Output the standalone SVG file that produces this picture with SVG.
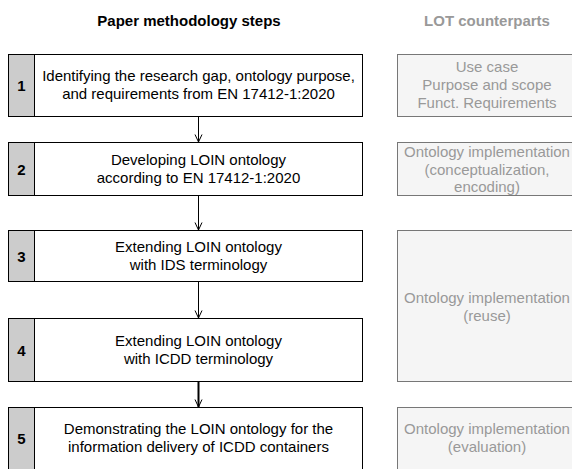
<svg xmlns="http://www.w3.org/2000/svg" width="572" height="469" viewBox="0 0 572 469">
<style>
.box{fill:#fff;stroke:#000;stroke-width:1}
.num{fill:#ccc;stroke:#000;stroke-width:1}
.lot{fill:#f5f5f5;stroke:#777;stroke-width:1}
text{font-family:"Liberation Sans",Arial,sans-serif;font-size:15px;text-anchor:middle;fill:#000}
.n{font-weight:bold}
text.g{fill:#999}
.h{font-weight:bold}
.c{fill:none;stroke:#000;stroke-width:1}
</style>
<defs>
<marker id="ar" markerWidth="12" markerHeight="12" refX="8" refY="5" orient="auto" markerUnits="userSpaceOnUse">
<path d="M0.5,1.5 L8,5 L0.5,8.5" fill="none" stroke="#000" stroke-width="1"/>
</marker>
</defs>
<text class="h" x="189" y="26">Paper methodology steps</text>
<text class="h g" x="487" y="26">LOT counterparts</text>
<g id="step1">
<rect class="box" x="8.5" y="54.5" width="354" height="62"/>
<rect class="num" x="8.5" y="54.5" width="26" height="62"/>
<text class="n" x="21.5" y="91">1</text>
<text x="198.5" y="81">Identifying the research gap, ontology purpose,</text>
<text x="198.5" y="99">and requirements from EN 17412-1:2020</text>
</g>
<g id="step2">
<rect class="box" x="8.5" y="142.5" width="354" height="53"/>
<rect class="num" x="8.5" y="142.5" width="26" height="53"/>
<text class="n" x="21.5" y="174.5">2</text>
<text x="198.5" y="165">Developing LOIN ontology</text>
<text x="198.5" y="183">according to EN 17412-1:2020</text>
</g>
<g id="step3">
<rect class="box" x="8.5" y="230.5" width="354" height="51"/>
<rect class="num" x="8.5" y="230.5" width="26" height="51"/>
<text class="n" x="21.5" y="261.5">3</text>
<text x="198.5" y="252">Extending LOIN ontology</text>
<text x="198.5" y="270">with IDS terminology</text>
</g>
<g id="step4">
<rect class="box" x="8.5" y="318.5" width="354" height="63"/>
<rect class="num" x="8.5" y="318.5" width="26" height="63"/>
<text class="n" x="21.5" y="356">4</text>
<text x="198.5" y="346">Extending LOIN ontology</text>
<text x="198.5" y="364">with ICDD terminology</text>
</g>
<g id="step5">
<rect class="box" x="8.5" y="407.5" width="354" height="63"/>
<rect class="num" x="8.5" y="407.5" width="26" height="63"/>
<text class="n" x="21.5" y="444">5</text>
<text x="198.5" y="434">Demonstrating the LOIN ontology for the</text>
<text x="198.5" y="452">information delivery of ICDD containers</text>
</g>
<g id="lot1">
<rect class="lot" x="397.5" y="54.5" width="180" height="62"/>
<text class="g" x="487" y="72">Use case</text>
<text class="g" x="487" y="90">Purpose and scope</text>
<text class="g" x="487" y="108">Funct. Requirements</text>
</g>
<g id="lot2">
<rect class="lot" x="397.5" y="142.5" width="180" height="53"/>
<text class="g" x="487" y="157">Ontology implementation</text>
<text class="g" x="487" y="175">(conceptualization,</text>
<text class="g" x="487" y="192">encoding)</text>
</g>
<g id="lot3">
<rect class="lot" x="397.5" y="230.5" width="180" height="151"/>
<text class="g" x="487" y="303">Ontology implementation</text>
<text class="g" x="487" y="321">(reuse)</text>
</g>
<g id="lot4">
<rect class="lot" x="397.5" y="407.5" width="180" height="63"/>
<text class="g" x="487" y="434">Ontology implementation</text>
<text class="g" x="487" y="452">(evaluation)</text>
</g>
<g id="connectors">
<line class="c" x1="198.5" y1="117" x2="198.5" y2="142" marker-end="url(#ar)"/>
<line class="c" x1="198.5" y1="196" x2="198.5" y2="230" marker-end="url(#ar)"/>
<line class="c" x1="198.5" y1="282" x2="198.5" y2="318" marker-end="url(#ar)"/>
<line class="c" x1="198.5" y1="382" x2="198.5" y2="407" marker-end="url(#ar)" style="stroke-width:2"/>
</g>
</svg>
